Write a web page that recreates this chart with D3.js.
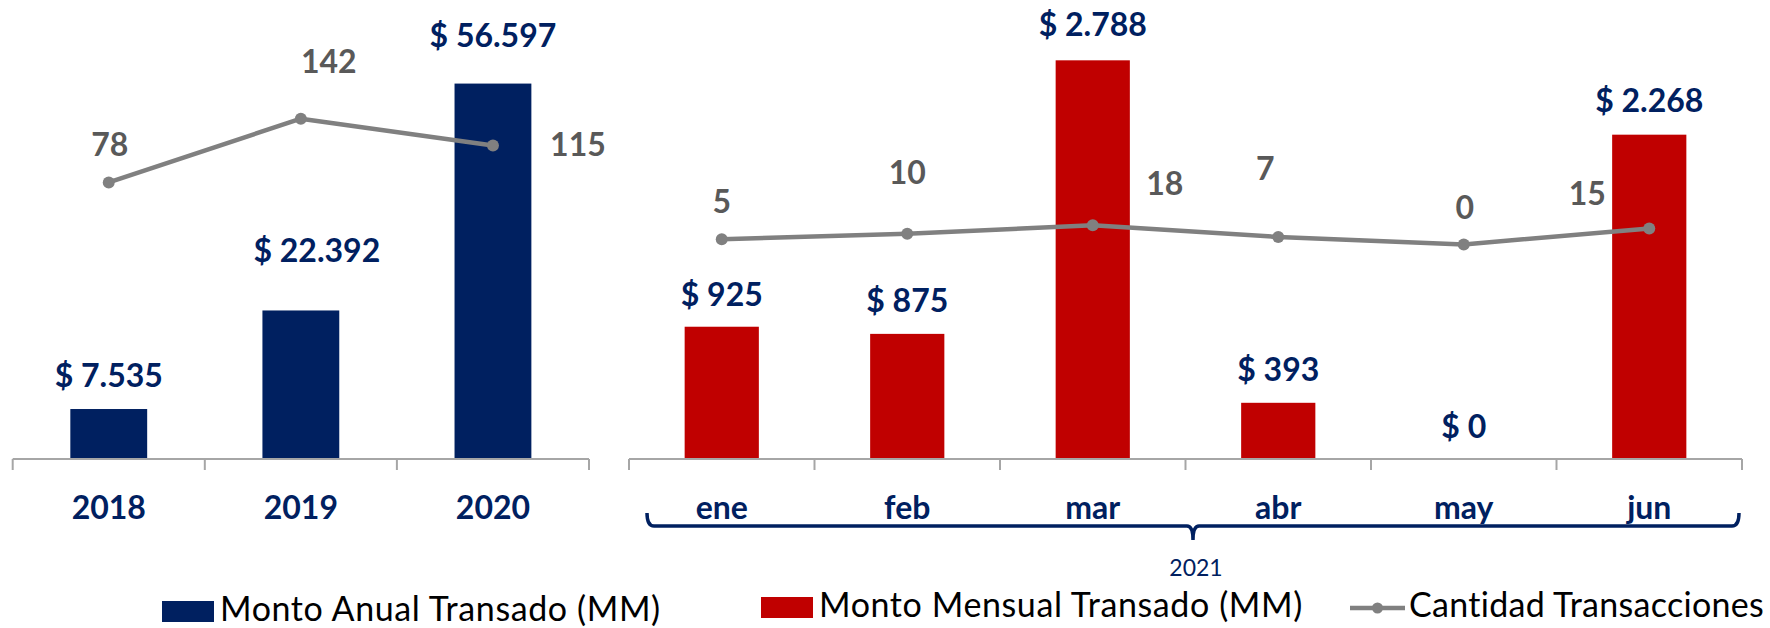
<!DOCTYPE html>
<html><head><meta charset="utf-8">
<script src="https://cdn.jsdelivr.net/npm/d3@7"></script>
<style>
body{margin:0;background:#fff}
svg{display:block}
text{font-family:Lato, "Open Sans", sans-serif}
</style>
</head><body>
<svg id="chart" width="1770" height="628"></svg>
<script>
// ---------- data ----------
const years = ["2018", "2019", "2020"];
const annualAmount = [7535, 22392, 56597];
const annualCount = [78, 142, 115];
const months = ["ene", "feb", "mar", "abr", "may", "jun"];
const monthlyAmount = [925, 875, 2788, 393, 0, 2268];
const monthlyCount = [5, 10, 18, 7, 0, 15];
const groupLabel = "2021";
const legendLabels = ["Monto Anual Transado (MM)", "Monto Mensual Transado (MM)", "Cantidad Transacciones"];

// ---------- styling / layout ----------
const NAVY = "#002060", RED = "#C00000", LINE_GRAY = "#808080", LABEL_GRAY = "#595959", AXIS_GRAY = "#A6A6A6";
const baseY = 459;
const fmtAmount = v => "$ " + d3.format(",")(v).replace(/,/g, ".");
// label offsets [dx, dy(baseline)] relative to bar top / line point
const annualBarLabelOff = [[0, -22], [16, -48], [0, -37]];
const annualLineLabelOff = [[1, -26], [28, -46], [85, 10]];
const monthlyBarLabelOff = [[0, -21], [0, -22], [0, -24], [0, -22], [0, -21], [0, -23]];
const monthlyLineLabelOff = [[0, -26], [0, -50], [72, -30], [-13, -57], [1, -26], [-62, -23]];

const svg = d3.select("#chart");

function panel(cfg) {
  const g = svg.append("g");
  const x = d3.scaleBand().domain(cfg.cats).range([cfg.x0, cfg.x1]).paddingInner(0.6).paddingOuter(0.3);
  const yBar = d3.scaleLinear().domain([0, cfg.max]).range([baseY, cfg.yTop]);
  const yLine = d3.scaleLinear().domain([-200, 200]).range([baseY, cfg.yTop]);
  const bw = x.bandwidth();
  const cx = d => x(d) + bw / 2;
  const rows = cfg.cats.map((c, i) => ({cat: c, amt: cfg.amounts[i], cnt: cfg.counts[i], i}));

  // bars
  g.selectAll("rect.bar").data(rows).join("rect")
    .attr("class", "bar")
    .attr("x", d => x(d.cat)).attr("width", bw)
    .attr("y", d => yBar(d.amt)).attr("height", d => baseY - yBar(d.amt))
    .attr("fill", cfg.color);

  // axis (labels via d3 axis)
  const ax = g.append("g").attr("transform", `translate(0,${baseY})`)
    .call(d3.axisBottom(x).tickSizeInner(0).tickSizeOuter(0));
  ax.select(".domain").remove();
  ax.selectAll("text")
    .attr("y", 60).attr("dy", 0)
    .attr("fill", NAVY).attr("font-size", 32).attr("font-weight", 700)
    .style("font-family", "Lato, sans-serif");
  // axis line + boundary ticks
  g.append("line").attr("x1", cfg.x0).attr("x2", cfg.x1).attr("y1", baseY).attr("y2", baseY)
    .attr("stroke", AXIS_GRAY).attr("stroke-width", 2);
  const bounds = d3.range(cfg.cats.length + 1).map(i => cfg.x0 + i * x.step());
  g.selectAll("line.tk").data(bounds).join("line").attr("class", "tk")
    .attr("x1", d => d).attr("x2", d => d).attr("y1", baseY).attr("y2", baseY + 11)
    .attr("stroke", AXIS_GRAY).attr("stroke-width", 2);

  // line
  const line = d3.line().x(d => cx(d.cat)).y(d => yLine(d.cnt));
  g.append("path").datum(rows).attr("d", line)
    .attr("fill", "none").attr("stroke", LINE_GRAY).attr("stroke-width", 4.5).attr("stroke-linejoin", "round");
  g.selectAll("circle.pt").data(rows).join("circle").attr("class", "pt")
    .attr("cx", d => cx(d.cat)).attr("cy", d => yLine(d.cnt)).attr("r", 6).attr("fill", LINE_GRAY);

  // bar value labels
  g.selectAll("text.bl").data(rows).join("text").attr("class", "bl")
    .attr("x", d => cx(d.cat) + cfg.barOff[d.i][0])
    .attr("y", d => yBar(d.amt) + cfg.barOff[d.i][1])
    .attr("text-anchor", "middle").attr("font-size", 32).attr("font-weight", 700)
    .attr("fill", NAVY).text(d => fmtAmount(d.amt));

  // line value labels
  g.selectAll("text.ll").data(rows).join("text").attr("class", "ll")
    .attr("x", d => cx(d.cat) + cfg.lineOff[d.i][0])
    .attr("y", d => yLine(d.cnt) + cfg.lineOff[d.i][1])
    .attr("text-anchor", "middle").attr("font-size", 32).attr("font-weight", 700)
    .attr("fill", LABEL_GRAY).text(d => d.cnt);

  return {x};
}

panel({cats: years, amounts: annualAmount, counts: annualCount, color: NAVY,
  x0: 12.7, x1: 589, yTop: 61, max: 60000, barOff: annualBarLabelOff, lineOff: annualLineLabelOff});
const rp = panel({cats: months, amounts: monthlyAmount, counts: monthlyCount, color: RED,
  x0: 629, x1: 1742, yTop: 30, max: 3000, barOff: monthlyBarLabelOff, lineOff: monthlyLineLabelOff});

// group bracket "2021"
const bx0 = rp.x.range()[0] + 18, bx1 = rp.x.range()[1] - 3, bcx = (bx0 + bx1) / 2;
const by = 526, btop = 513, bnotch = 540;
svg.append("path")
  .attr("d", `M${bx0},${btop} Q${bx0},${by} ${bx0 + 7},${by} L${bcx - 6},${by} Q${bcx},${by} ${bcx},${bnotch} Q${bcx},${by} ${bcx + 6},${by} L${bx1 - 7},${by} Q${bx1},${by} ${bx1},${btop}`)
  .attr("fill", "none").attr("stroke", NAVY).attr("stroke-width", 3.5);
svg.append("text").attr("x", bcx + 3).attr("y", 576).attr("text-anchor", "middle")
  .attr("font-size", 23).attr("fill", NAVY).text(groupLabel);

// legend
const lg = svg.append("g");
const items = [
  {type: "rect", color: NAVY, x: 162, y: 601, text: legendLabels[0], ls: 0.6},
  {type: "rect", color: RED, x: 761, y: 597, text: legendLabels[1], ls: 0.6},
  {type: "line", color: LINE_GRAY, x: 1350, y: 597, text: legendLabels[2], ls: 0.3}
];
items.forEach(it => {
  if (it.type === "rect") {
    lg.append("rect").attr("x", it.x).attr("y", it.y).attr("width", 52).attr("height", 21).attr("fill", it.color);
  } else {
    lg.append("line").attr("x1", it.x).attr("x2", it.x + 55).attr("y1", it.y + 11).attr("y2", it.y + 11)
      .attr("stroke", it.color).attr("stroke-width", 4.5);
    lg.append("circle").attr("cx", it.x + 27.5).attr("cy", it.y + 11).attr("r", 5.5).attr("fill", it.color);
  }
  lg.append("text").attr("x", it.x + (it.type === "rect" ? 58 : 59)).attr("y", it.y + 20)
    .attr("font-size", 34).attr("letter-spacing", it.ls).attr("fill", "#000").text(it.text);
});
</script>
</body></html>
